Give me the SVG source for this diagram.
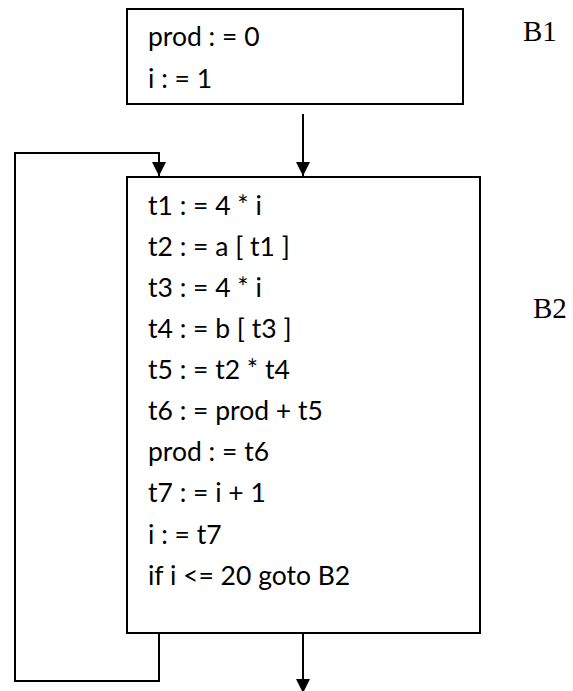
<svg xmlns="http://www.w3.org/2000/svg" width="573" height="691" viewBox="0 0 573 691">
<style>
.box{fill:#fff;stroke:#000;stroke-width:2}
.code{font-family:Lato,"Open Sans","Liberation Sans",sans-serif;font-size:26.5px;fill:#000}
.lbl{font-family:"Liberation Serif","Times New Roman",serif;font-size:29px;fill:#000}
.edge{fill:none;stroke:#000;stroke-width:2}
</style>
<defs>
<marker id="arr" viewBox="0 0 14 14" refX="14" refY="7" markerWidth="14" markerHeight="14" markerUnits="userSpaceOnUse" orient="auto">
<path d="M0,0 L14,7 L0,14 Z" fill="#000"/>
</marker>
</defs>
<rect width="573" height="691" fill="#fff"/>
<g id="B1">
<rect class="box" x="127" y="9" width="336" height="95"/>
<text class="code" x="148" y="46">prod : = 0</text>
<text class="code" x="148" y="88">i : = 1</text>
</g>
<g id="B2">
<rect class="box" x="127" y="177" width="353" height="456"/>
<text class="code" x="148" y="215">t1 : = 4 * i</text>
<text class="code" x="148" y="256">t2 : = a [ t1 ]</text>
<text class="code" x="148" y="297">t3 : = 4 * i</text>
<text class="code" x="148" y="338">t4 : = b [ t3 ]</text>
<text class="code" x="148" y="379">t5 : = t2 * t4</text>
<text class="code" x="148" y="420">t6 : = prod + t5</text>
<text class="code" x="148" y="461">prod : = t6</text>
<text class="code" x="148" y="502">t7 : = i + 1</text>
<text class="code" x="148" y="544">i : = t7</text>
<text class="code" x="148" y="585">if i &lt;= 20 goto B2</text>
</g>
<g id="label-B1"><text class="lbl" x="523" y="41">B1</text></g>
<g id="label-B2"><text class="lbl" x="533" y="318">B2</text></g>
<g id="connectors">
<path class="edge" d="M303,114 V176" marker-end="url(#arr)"/>
<path class="edge" d="M159,633 V681 H15 V153 H159 V176" marker-end="url(#arr)"/>
<path class="edge" d="M303,633 V693" marker-end="url(#arr)"/>
</g>
</svg>
